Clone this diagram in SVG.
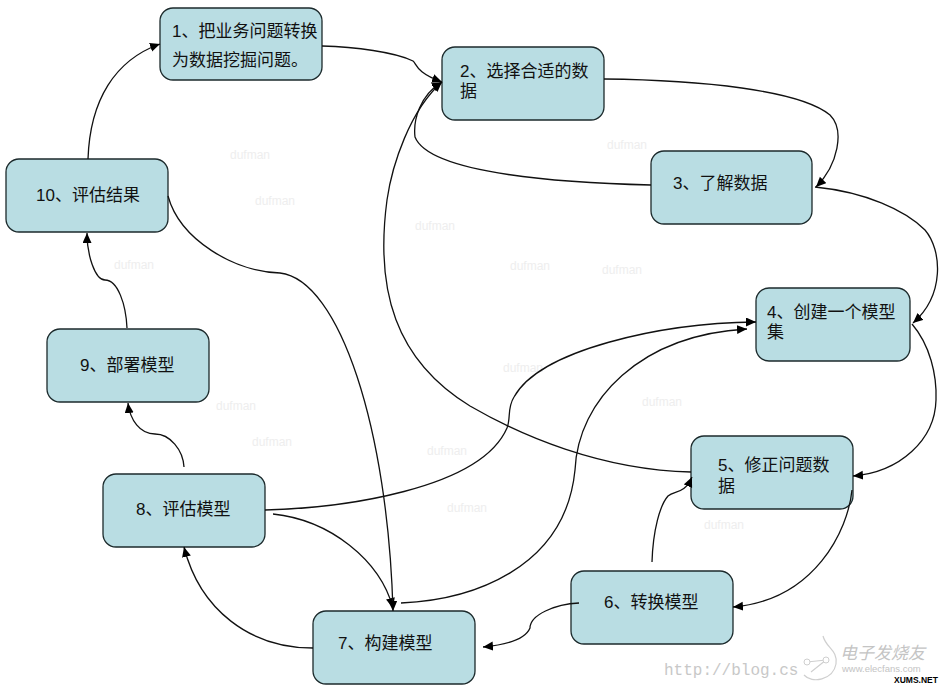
<svg xmlns="http://www.w3.org/2000/svg" width="946" height="689" viewBox="0 0 946 689">
<style>
.n{fill:#b9dde3;stroke:#1c2a2c;stroke-width:1.3}
.t{font-family:"Liberation Sans","Noto Sans CJK SC",sans-serif;font-size:17px;fill:#111}
.c{fill:none;stroke:#111;stroke-width:1.3;marker-end:url(#a)}
.w{font-family:"Liberation Sans",sans-serif;font-size:12px;fill:#eeeeee}
</style>
<defs><marker id="a" markerUnits="userSpaceOnUse" markerWidth="12" markerHeight="10" refX="10" refY="4.5" orient="auto"><path d="M0 0L10 4.5L0 9z" fill="#000"/></marker></defs>
<rect width="946" height="689" fill="#fff"/>
<g id="watermarks" class="w">
<text x="230" y="159">dufman</text><text x="255" y="205">dufman</text><text x="415" y="230">dufman</text><text x="607" y="149">dufman</text><text x="510" y="270">dufman</text><text x="602" y="274">dufman</text><text x="114" y="269">dufman</text><text x="503" y="372">dufman</text><text x="642" y="406">dufman</text><text x="216" y="410">dufman</text><text x="252" y="446">dufman</text><text x="427" y="455">dufman</text><text x="447" y="512">dufman</text><text x="704" y="529">dufman</text>
</g>
<g id="node1"><rect class="n" x="160" y="8" width="162" height="72" rx="13"/><text class="t" x="172" y="37">1、把业务问题转换</text><text class="t" x="172" y="66">为数据挖掘问题。</text></g>
<g id="node2"><rect class="n" x="442" y="47" width="162" height="73" rx="13"/><text class="t" x="460" y="77">2、选择合适的数</text><text class="t" x="460" y="97">据</text></g>
<g id="node3"><rect class="n" x="651" y="151" width="161" height="73" rx="13"/><text class="t" x="673" y="189">3、了解数据</text></g>
<g id="node4"><rect class="n" x="756" y="288" width="154" height="73" rx="13"/><text class="t" x="767" y="318">4、创建一个模型</text><text class="t" x="767" y="338">集</text></g>
<g id="node5"><rect class="n" x="691" y="436" width="162" height="73" rx="13"/><text class="t" x="718" y="471">5、修正问题数</text><text class="t" x="718" y="492">据</text></g>
<g id="node6"><rect class="n" x="571" y="571" width="162" height="73" rx="13"/><text class="t" x="604" y="608">6、转换模型</text></g>
<g id="node7"><rect class="n" x="313" y="611" width="162" height="73" rx="13"/><text class="t" x="338" y="649">7、构建模型</text></g>
<g id="node8"><rect class="n" x="103" y="474" width="162" height="73" rx="13"/><text class="t" x="136" y="515">8、评估模型</text></g>
<g id="node9"><rect class="n" x="47" y="329" width="162" height="73" rx="13"/><text class="t" x="80" y="371">9、部署模型</text></g>
<g id="node10"><rect class="n" x="6" y="159" width="162" height="73" rx="13"/><text class="t" x="36" y="201">10、评估结果</text></g>
<g id="connectors">
<path class="c" d="M88 159C90 100 115 60 160 44"/>
<path class="c" d="M322 46C355 47 395 52 413 61C417 64 415 72 442 82"/>
<path class="c" d="M604 79C700 80 800 90 830 115C845 130 838 165 816 187"/>
<path class="c" d="M651 185C570 183 430 175 415 137C413 120 420 95 442 82"/>
<path class="c" d="M815 187C865 192 905 210 925 230C942 250 945 295 913 323"/>
<path class="c" d="M912 324C930 345 937 375 936 400C935 440 900 472 853 476"/>
<path class="c" d="M852 490C848 530 815 600 733 607"/>
<path class="c" d="M691 472C600 470 520 435 470 406C395 360 375 290 387 200C392 165 410 110 442 82"/>
<path class="c" d="M652 562C653 530 660 505 668 496C675 490 684 495 692 477"/>
<path class="c" d="M579 603C555 604 530 615 530 628C525 640 505 645 483 647"/>
<path class="c" d="M313 648C250 648 200 610 184 547"/>
<path class="c" d="M273 514C330 520 380 560 393 608"/>
<path class="c" d="M265 510C340 508 480 490 507 428C511 418 507 408 514 397C540 350 660 323 756 322"/>
<path class="c" d="M401 603C470 600 565 570 575 470C578 400 640 335 747 329"/>
<path class="c" d="M168 196C180 240 235 272 280 273C340 280 388 430 393 611"/>
<path class="c" d="M184 467C183 450 170 434 155 434C140 434 130 420 128 403"/>
<path class="c" d="M127 328C126 305 118 280 105 280C95 280 87 255 87 233"/>
</g>
<g id="credits">
<text x="664" y="675" font-family="Liberation Mono,monospace" font-size="16" fill="#c8c8c8">http://blog.cs</text>
<path d="M823 636C826 648 838 650 836 664C833 680 812 684 804 675M807 662L826 660M811 672L826 660" fill="none" stroke="#cfcfcf" stroke-width="1.2"/>
<circle cx="807" cy="662" r="3" fill="#fff" stroke="#cfcfcf"/><circle cx="826" cy="660" r="3" fill="#fff" stroke="#cfcfcf"/>
<text x="840" y="659" font-family="Noto Sans CJK SC,sans-serif" font-size="17" font-style="italic" fill="#c4c4c4">电子发烧友</text>
<text x="842" y="672" font-family="Liberation Sans,sans-serif" font-size="9.5" fill="#c4c4c4">www.elecfans.com</text>
<text x="894" y="683" font-family="Liberation Sans,sans-serif" font-size="8.5" font-weight="bold" fill="#000">XUMS.NET</text>
</g>
</svg>
